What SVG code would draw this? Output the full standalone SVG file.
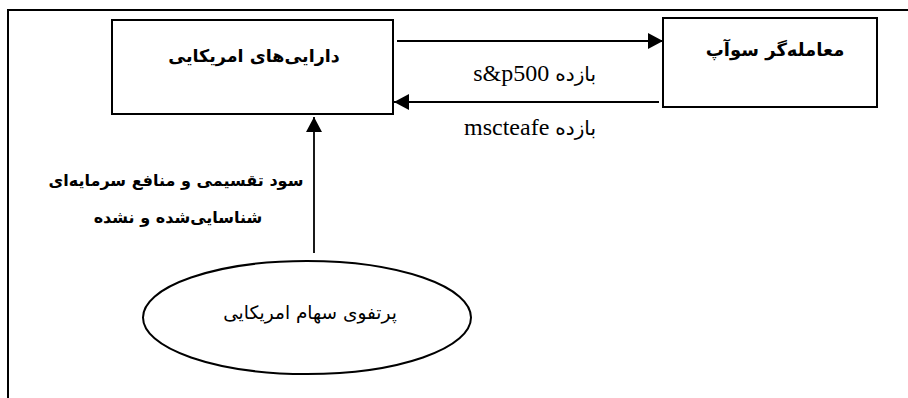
<svg xmlns="http://www.w3.org/2000/svg" width="908" height="398" viewBox="0 0 908 398">
<style>
.box{fill:#fff;stroke:#000;stroke-width:2}
.ln{fill:none;stroke:#000;stroke-width:1.8}
.fa{font-family:"DejaVu Sans","Noto Sans",sans-serif;fill:#000}
.b{font-weight:bold}
.lbl{font-family:"Liberation Serif","DejaVu Sans",serif;font-size:24px;fill:#000}
.ar{font-family:"DejaVu Sans",sans-serif;font-size:20px}
</style>
<defs>
<marker id="ah" viewBox="0 0 15 16" refX="15" refY="8" markerWidth="15" markerHeight="16" markerUnits="userSpaceOnUse" orient="auto">
<path d="M0,0 L15,8 L0,16 Z" fill="#000"/>
</marker>
</defs>
<rect width="908" height="398" fill="#fff"/>
<path d="M8,400 L8,10 L910,10" fill="none" stroke="#000" stroke-width="2"/>
<g id="us-assets">
<rect class="box" x="112" y="20" width="281" height="94"/>
<text class="fa b" font-size="17.5" x="254" y="62" text-anchor="middle">دارایی‌های امریکایی</text>
</g>
<g id="swap-dealer">
<rect class="box" x="663" y="18" width="214" height="89"/>
<text class="fa b" font-size="18" x="775" y="56" text-anchor="middle">معامله‌گر سوآپ</text>
</g>
<g id="us-portfolio">
<ellipse cx="307" cy="317.5" rx="164" ry="56.5" fill="#fff" stroke="#000" stroke-width="2"/>
<text class="fa" font-size="18.5" x="310" y="319" text-anchor="middle">پرتفوی سهام امریکایی</text>
</g>
<g id="connectors">
<line class="ln" x1="397" y1="41" x2="663" y2="41" marker-end="url(#ah)"/>
<line class="ln" x1="659" y1="102" x2="394" y2="102" marker-end="url(#ah)"/>
<line class="ln" x1="314" y1="253" x2="314" y2="117" marker-end="url(#ah)"/>
<text class="lbl" x="596" y="81" text-anchor="end">s&amp;p500 <tspan class="ar">بازده</tspan></text>
<text class="lbl" x="596" y="135" text-anchor="end">mscteafe <tspan class="ar">بازده</tspan></text>
<text class="fa b" font-size="16" x="176" y="186" text-anchor="middle">سود تقسیمی و منافع سرمایه‌ای</text>
<text class="fa b" font-size="16" x="178" y="223" text-anchor="middle">شناسایی‌شده و نشده</text>
</g>
</svg>
